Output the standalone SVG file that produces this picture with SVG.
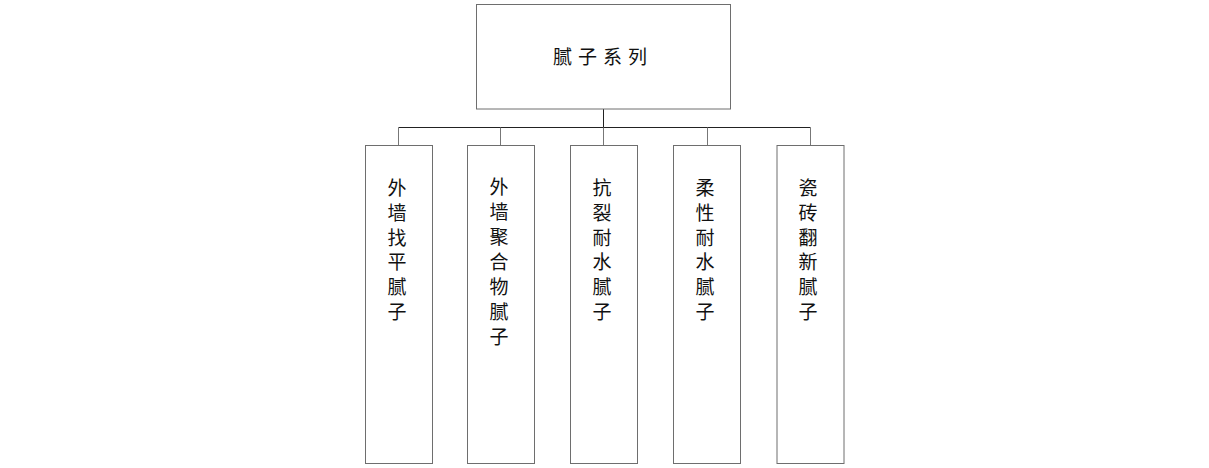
<svg xmlns="http://www.w3.org/2000/svg" width="1209" height="468" viewBox="0 0 1209 468">
<style>
.box{fill:#fff;stroke:#6e6e6e;stroke-width:1}
.t{font-family:"Noto Sans CJK SC","Noto Sans",sans-serif;font-size:19px;fill:#111;text-anchor:middle}
.c{stroke:#222;stroke-width:1;fill:none}
.d{stroke:#777;stroke-width:1;fill:none}
</style>
<rect width="1209" height="468" fill="#fff"/>
<g id="connectors">
<path class="c" d="M603.5 109V127.5M398.5 127.5H810.5"/>
<path class="d" d="M398.5 127.5V145.5M500.5 127.5V145.5M603.5 127.5V145.5M707.5 127.5V145.5M810.5 127.5V145.5"/>
</g>
<g id="root">
<rect class="box" x="476.5" y="4.5" width="254" height="104.5"/>
<text class="t" x="603" y="64" letter-spacing="6">腻子系列</text>
</g>
<g id="n1">
<rect class="box" x="365.5" y="145.5" width="67" height="318"/>
<text class="t" x="397"><tspan x="397" y="195">外</tspan><tspan x="397" dy="24.8">墙</tspan><tspan x="397" dy="24.8">找</tspan><tspan x="397" dy="24.8">平</tspan><tspan x="397" dy="24.8">腻</tspan><tspan x="397" dy="24.8">子</tspan></text>
</g>
<g id="n2">
<rect class="box" x="467.5" y="145.5" width="67" height="318"/>
<text class="t" x="499"><tspan x="499" y="194">外</tspan><tspan x="499" dy="25">墙</tspan><tspan x="499" dy="25">聚</tspan><tspan x="499" dy="25">合</tspan><tspan x="499" dy="25">物</tspan><tspan x="499" dy="25">腻</tspan><tspan x="499" dy="25">子</tspan></text>
</g>
<g id="n3">
<rect class="box" x="570.5" y="145.5" width="67" height="318"/>
<text class="t" x="602"><tspan x="602" y="195">抗</tspan><tspan x="602" dy="24.8">裂</tspan><tspan x="602" dy="24.8">耐</tspan><tspan x="602" dy="24.8">水</tspan><tspan x="602" dy="24.8">腻</tspan><tspan x="602" dy="24.8">子</tspan></text>
</g>
<g id="n4">
<rect class="box" x="673.5" y="145.5" width="67" height="318"/>
<text class="t" x="705"><tspan x="705" y="195">柔</tspan><tspan x="705" dy="24.8">性</tspan><tspan x="705" dy="24.8">耐</tspan><tspan x="705" dy="24.8">水</tspan><tspan x="705" dy="24.8">腻</tspan><tspan x="705" dy="24.8">子</tspan></text>
</g>
<g id="n5">
<rect class="box" x="777" y="145.5" width="67" height="318"/>
<text class="t" x="808"><tspan x="808" y="195">瓷</tspan><tspan x="808" dy="24.8">砖</tspan><tspan x="808" dy="24.8">翻</tspan><tspan x="808" dy="24.8">新</tspan><tspan x="808" dy="24.8">腻</tspan><tspan x="808" dy="24.8">子</tspan></text>
</g>
</svg>
